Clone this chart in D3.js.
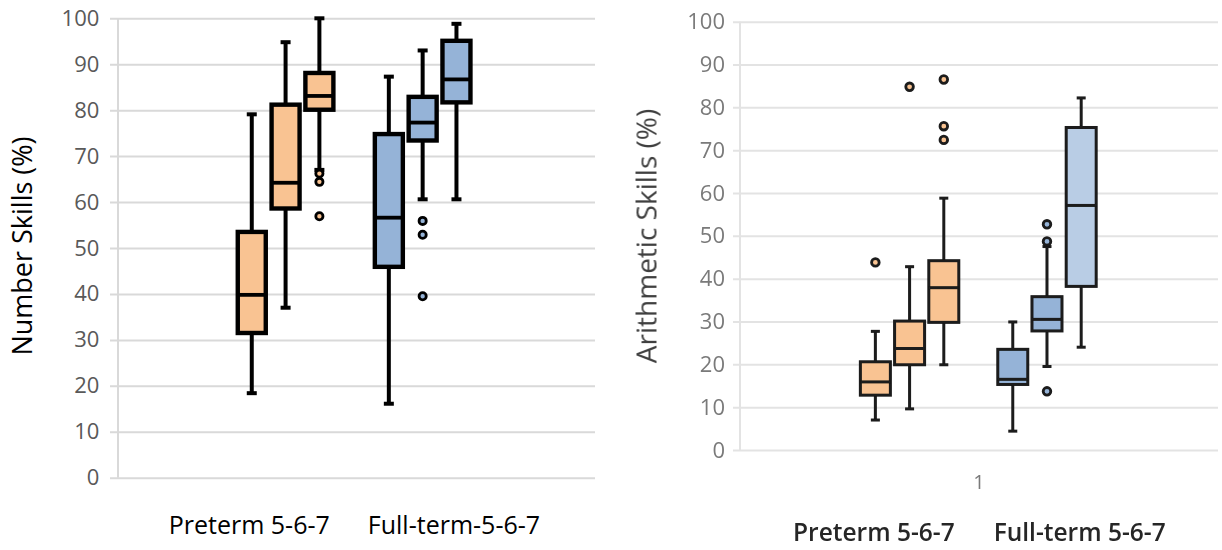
<!DOCTYPE html>
<html>
<head>
<meta charset="utf-8">
<script src="https://cdn.jsdelivr.net/npm/d3@7"></script>
<style>
  html, body { margin: 0; padding: 0; background: #fff; }
  svg { display: block; }
  text { font-family: "Open Sans", "Noto Sans", sans-serif; }
</style>
</head>
<body>
<svg id="chart" width="1222" height="550"></svg>
<script>
// ---- shared ----
const ages = ["5", "6", "7"];
const groupKeys = ["preterm", "fullterm"];
const yTicks = [0, 10, 20, 30, 40, 50, 60, 70, 80, 90, 100];

// ---- Number Skills (left panel) ----
const numberLabels = ["Preterm 5-6-7", "Full-term-5-6-7"];
// order: preterm 5, 6, 7, full-term 5, 6, 7
const numberMin    = [18.4, 37.0, 67.0, 16.1, 60.6, 60.6];
const numberQ1     = [31.5, 58.6, 80.1, 45.9, 73.4, 81.7];
const numberMedian = [39.8, 64.2, 83.1, 56.6, 77.3, 86.7];
const numberQ3     = [53.5, 81.2, 88.1, 74.8, 82.9, 95.1];
const numberMax    = [79.1, 94.8, 100.0, 87.3, 93.0, 98.8];
const numberOutliers = [[], [], [66.2, 64.4, 56.9], [], [55.9, 52.9, 39.5], []];

// ---- Arithmetic Skills (right panel) ----
const arithLabels = ["Preterm 5-6-7", "Full-term 5-6-7"];
const arithCategory = ["1"];
const arithMin    = [7.0, 9.6, 19.9, 4.4, 19.5, 24.0];
const arithQ1     = [12.8, 19.9, 29.8, 15.3, 27.8, 38.2];
const arithMedian = [15.9, 23.7, 37.9, 16.5, 30.5, 57.1];
const arithQ3     = [20.6, 30.1, 44.2, 23.5, 35.8, 75.3];
const arithMax    = [27.7, 42.8, 58.8, 29.9, 47.5, 82.2];
const arithOutliers = [[43.8], [84.8], [86.5, 75.6, 72.4], [], [48.7, 52.7, 13.7], []];

const svg = d3.select("#chart");

svg.append("defs").append("filter")
  .attr("id", "soft")
  .attr("x", "-5%").attr("y", "-5%").attr("width", "110%").attr("height", "110%")
  .append("feGaussianBlur").attr("stdDeviation", 0.7);

function buildRows(mins, q1s, meds, q3s, maxs, outs) {
  const rows = [];
  groupKeys.forEach((g, gi) => {
    ages.forEach((a, ai) => {
      const i = gi * 3 + ai;
      rows.push({ group: g, age: a, min: mins[i], q1: q1s[i], median: meds[i],
                  q3: q3s[i], max: maxs[i], outliers: outs[i] });
    });
  });
  return rows;
}

function drawPanel(cfg) {
  const g = svg.append("g");
  if (cfg.filter) g.attr("filter", cfg.filter);

  const y = d3.scaleLinear().domain([0, 100]).range([cfg.yBottom, cfg.yTop]);
  const xOuter = d3.scaleBand().domain(groupKeys)
    .range([cfg.axisX, cfg.gridRight])
    .paddingInner(cfg.padInner).paddingOuter(cfg.padOuter).align(cfg.align);
  const xInner = d3.scaleBand().domain(ages).range([0, xOuter.bandwidth()]);
  const cx = d => xOuter(d.group) + xInner(d.age) + xInner.bandwidth() / 2;

  // gridlines + tick labels
  const axis = d3.axisLeft(y).tickValues(yTicks)
    .tickSizeInner(-(cfg.gridRight - cfg.gridLeft)).tickSizeOuter(0)
    .tickPadding(cfg.tickPad).tickFormat(d3.format("d"));
  const ag = g.append("g").attr("transform", `translate(${cfg.gridLeft},0)`).call(axis);
  ag.select(".domain").remove();
  ag.selectAll(".tick line").attr("stroke", cfg.gridColor).attr("stroke-width", 2);
  ag.selectAll(".tick text").attr("fill", cfg.tickColor)
    .style("font-size", cfg.tickSize + "px").attr("font-family", null);

  // vertical axis line
  g.append("line")
    .attr("x1", cfg.axisX).attr("x2", cfg.axisX)
    .attr("y1", y(100)).attr("y2", y(0))
    .attr("stroke", cfg.gridColor).attr("stroke-width", 2);

  const rows = cfg.rows;
  const bw = cfg.boxWidth;
  const cap = cfg.capWidth;

  const boxes = g.selectAll("g.box").data(rows).join("g").attr("class", "box");

  // whiskers
  boxes.append("line")
    .attr("x1", cx).attr("x2", cx)
    .attr("y1", d => y(d.max)).attr("y2", d => y(d.q3))
    .attr("stroke", cfg.ink).attr("stroke-width", cfg.whiskerW);
  boxes.append("line")
    .attr("x1", cx).attr("x2", cx)
    .attr("y1", d => y(d.q1)).attr("y2", d => y(d.min))
    .attr("stroke", cfg.ink).attr("stroke-width", cfg.whiskerW);
  // caps
  boxes.append("line")
    .attr("x1", d => cx(d) - cap / 2).attr("x2", d => cx(d) + cap / 2)
    .attr("y1", d => y(d.max)).attr("y2", d => y(d.max))
    .attr("stroke", cfg.ink).attr("stroke-width", cfg.capW);
  boxes.append("line")
    .attr("x1", d => cx(d) - cap / 2).attr("x2", d => cx(d) + cap / 2)
    .attr("y1", d => y(d.min)).attr("y2", d => y(d.min))
    .attr("stroke", cfg.ink).attr("stroke-width", cfg.capW);

  // interquartile box
  boxes.append("rect")
    .attr("x", d => cx(d) - bw / 2).attr("width", bw)
    .attr("y", d => y(d.q3)).attr("height", d => y(d.q1) - y(d.q3))
    .attr("fill", (d, i) => cfg.fills[i])
    .attr("stroke", cfg.ink).attr("stroke-width", cfg.boxStroke);
  // median
  boxes.append("line")
    .attr("x1", d => cx(d) - bw / 2).attr("x2", d => cx(d) + bw / 2)
    .attr("y1", d => y(d.median)).attr("y2", d => y(d.median))
    .attr("stroke", cfg.ink).attr("stroke-width", cfg.medianW);

  // outliers
  boxes.each(function (d, i) {
    d3.select(this).selectAll("circle").data(d.outliers).join("circle")
      .attr("cx", cx(d)).attr("cy", v => y(v)).attr("r", cfg.dotR)
      .attr("fill", cfg.fills[i]).attr("stroke", cfg.ink).attr("stroke-width", cfg.dotStroke);
  });

  // y title
  g.append("text")
    .attr("transform", `translate(${cfg.titleX},${cfg.titleY}) rotate(-90)`)
    .attr("text-anchor", "middle")
    .attr("fill", cfg.titleColor)
    .style("font-size", cfg.titleSize + "px")
    .text(cfg.title);

  // group labels beneath the plot
  const first = rows[0], last = rows[rows.length - 1];
  const labelAt = [cx(first), cx(last)];
  cfg.labels.forEach((t, i) => {
    g.append("text")
      .attr("x", labelAt[i] + cfg.labelShift).attr("y", cfg.labelY)
      .attr("text-anchor", "middle")
      .attr("fill", cfg.labelColor)
      .style("font-size", cfg.labelSize + "px")
      .style("font-weight", cfg.labelWeight)
      .text(t);
  });

  return { g, xOuter, y };
}

// left panel
drawPanel({
  rows: buildRows(numberMin, numberQ1, numberMedian, numberQ3, numberMax, numberOutliers),
  fills: ["#F9C392", "#F9C392", "#F9C392", "#95B3D7", "#95B3D7", "#95B3D7"],
  yBottom: 477.7, yTop: 18.3,
  gridLeft: 110, gridRight: 595, axisX: 118,
  padInner: 0.26, padOuter: 0.87, align: 0.49,
  tickPad: 10.7, tickSize: 22, tickColor: "#595959", gridColor: "#d9d9d9",
  ink: "#000", boxWidth: 28, boxStroke: 4.4, whiskerW: 4, capW: 4, capWidth: 10,
  medianW: 3.8, dotR: 3.6, dotStroke: 2.8,
  title: "Number Skills (%)", titleX: 32, titleY: 246, titleSize: 27, titleColor: "#000",
  labels: numberLabels, labelY: 534, labelSize: 25, labelColor: "#000",
  labelWeight: 400, labelShift: -2.5
});

// right panel
const right = drawPanel({
  filter: "url(#soft)",
  rows: buildRows(arithMin, arithQ1, arithMedian, arithQ3, arithMax, arithOutliers),
  fills: ["#F9C392", "#F9C392", "#F9C392", "#95B3D7", "#95B3D7", "#B9CDE5"],
  yBottom: 450, yTop: 21.7,
  gridLeft: 733, gridRight: 1218, axisX: 740,
  padInner: 0.253, padOuter: 0.866, align: 0.497,
  tickPad: 8, tickSize: 22, tickColor: "#7a7a7a", gridColor: "#e3e3e3",
  ink: "#1a1a1a", boxWidth: 30, boxStroke: 3, whiskerW: 3, capW: 3, capWidth: 9,
  medianW: 3, dotR: 3.8, dotStroke: 2.8,
  title: "Arithmetic Skills (%)", titleX: 656.5, titleY: 236, titleSize: 28, titleColor: "#404040",
  labels: arithLabels, labelY: 541, labelSize: 24.5, labelColor: "#262626",
  labelWeight: 600, labelShift: -1.5
});

// category label on the right panel
right.g.append("text")
  .attr("x", (740 + 1218) / 2).attr("y", 489.3)
  .attr("text-anchor", "middle")
  .attr("fill", "#7a7a7a")
  .style("font-size", "20px")
  .text(arithCategory[0]);
</script>
</body>
</html>
